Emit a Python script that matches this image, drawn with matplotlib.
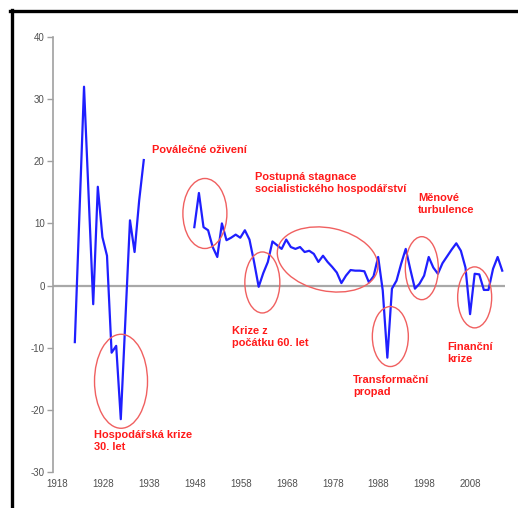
import matplotlib
matplotlib.use("Agg")
import matplotlib.pyplot as plt
from matplotlib.patches import Ellipse
from matplotlib.lines import Line2D
from matplotlib.transforms import IdentityTransform

plt.rcParams['font.family'] = ['Liberation Sans', 'DejaVu Sans']
plt.rcParams['axes.unicode_minus'] = False

# interwar period (annual real GDP growth, %)
years_interwar = list(range(1923, 1939))
growth_interwar = [-9.1, 11.5, 32.0, 14.5, -3.0, 15.9, 7.8, 4.8,
                   -10.8, -9.7, -21.5, -5.5, 10.5, 5.4, 13.7, 20.2]

# post-war period
years_postwar = list(range(1949, 2017))
growth_postwar = [9.4, 14.9, 9.4, 8.9, 6.2, 4.6, 10.0, 7.3, 7.7, 8.2,
                  7.7, 8.9, 7.4, 3.8, -0.2, 2.0, 3.8, 7.1, 6.5, 5.9,
                  7.4, 6.2, 5.9, 6.2, 5.4, 5.6, 5.1, 3.8, 4.8, 3.8,
                  3.0, 2.1, 0.4, 1.6, 2.5, 2.4, 2.4, 2.3, 0.5, 1.5,
                  4.6, -0.8, -11.6, -0.5, 0.8, 3.5, 5.9, 2.6, -0.5, 0.3,
                  1.6, 4.6, 2.9, 1.9, 3.6, 4.7, 5.8, 6.8, 5.6, 2.9,
                  -4.6, 1.9, 1.8, -0.7, -0.7, 2.7, 4.6, 2.4]

tick_years = list(range(1918, 2009, 10))
y_ticks = list(range(-30, 41, 10))

# annotations: (year, value, text)
labels = [
    (1939.8, 22.6, "Poválečné oživení"),
    (1962.2, 18.3, "Postupná stagnace\nsocialistického hospodářství"),
    (1997.7, 14.9, "Měnové\nturbulence"),
    (1957.2, -6.5, "Krize z\npočátku 60. let"),
    (1983.5, -14.4, "Transformační\npropad"),
    (2004.0, -9.1, "Finanční\nkrize"),
    (1927.2, -23.2, "Hospodářská krize\n30. let"),
]
# circled episodes: (year, value, width px, height px, angle)
circles = [
    (1951.3, 11.6, 44, 70, 0),
    (1963.8, 0.5, 35, 61, 0),
    (1978.0, 4.2, 102, 63, -12),
    (1991.65, -8.2, 36, 60, 0),
    (1998.5, 2.8, 33, 63, 0),
    (2010.0, -1.9, 34, 61, 0),
    (1933.05, -15.4, 53, 94, 0),
]

W, H = 518, 508
fig = plt.figure(figsize=(W / 100, H / 100), dpi=100)
ax = fig.add_axes([53 / W, 1 - 472 / H, (505 - 53) / W, (472 - 37) / H])

ax.plot(years_interwar, growth_interwar, color='#1f1fff', lw=1.6)
ax.plot(years_postwar, growth_postwar, color='#1f1fff', lw=1.6)
ax.axhline(0, color='#a8a8a8', lw=1.6, zorder=1)

ax.set_xlim(1918.25, 2016.6)
ax.set_ylim(-30, 40)
ax.set_yticks(y_ticks)
ax.set_xticks([y + 1.1 for y in tick_years])
ax.set_xticklabels([str(y) for y in tick_years])

for s in ['top', 'right', 'bottom']:
    ax.spines[s].set_visible(False)
ax.spines['left'].set_color('#a0a0a0')
ax.spines['left'].set_linewidth(1.2)
ax.tick_params(axis='y', length=4, width=1, color='#a0a0a0',
               labelsize=7, labelcolor='#505050', pad=2)
ax.tick_params(axis='x', length=0, labelsize=7, labelcolor='#505050', pad=5)

for x, y, s in labels:
    ax.text(x, y, s, ha='left', va='top', color='#ff1a1a', fontsize=7.9,
            fontweight='bold', linespacing=1.25)

for x, y, w, h, a in circles:
    cx, cy = ax.transData.transform((x, y))
    e = Ellipse((cx, cy), w, h, angle=a, transform=IdentityTransform(),
                fill=False, edgecolor='#f06060', lw=1, clip_on=False)
    fig.add_artist(e)

# black frame (top and left edges visible)
fig.add_artist(Line2D([10 / W, 1], [1 - 10.5 / H, 1 - 10.5 / H],
                      transform=fig.transFigure, color='black', lw=2.4))
fig.add_artist(Line2D([11.5 / W, 11.5 / W], [0, 1 - 9.5 / H],
                      transform=fig.transFigure, color='black', lw=2.4))

fig.savefig("out.png", dpi=100)
